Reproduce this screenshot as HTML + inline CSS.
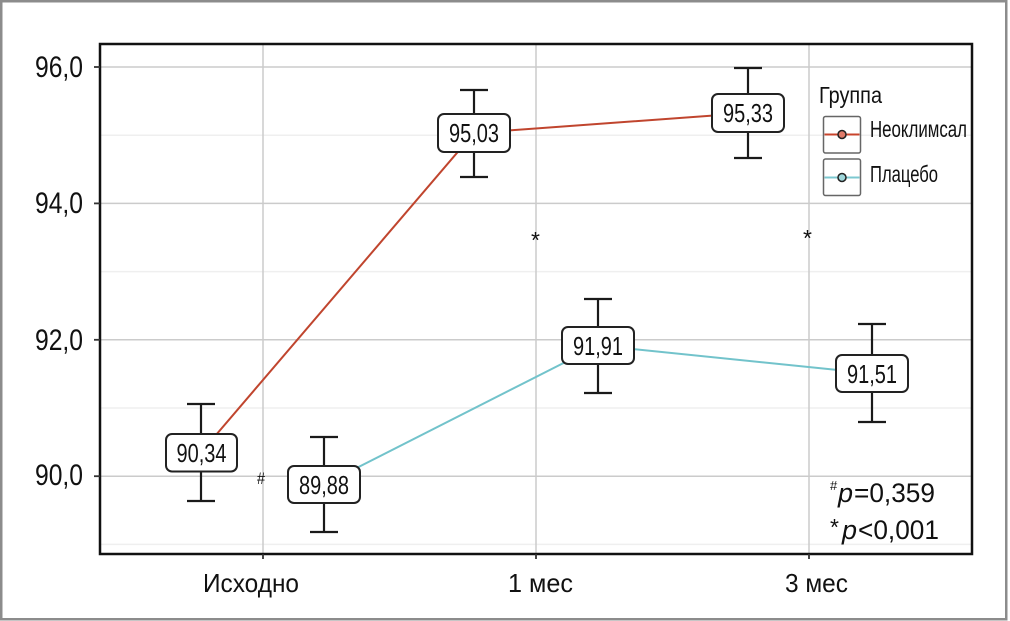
<!DOCTYPE html>
<html><head><meta charset="utf-8"><style>
html,body{margin:0;padding:0;background:#fff;}
svg{display:block;}
text{font-family:"Liberation Sans","DejaVu Sans",sans-serif;fill:#111;}
</style></head><body>
<svg width="1010" height="621" viewBox="0 0 1010 621" xmlns="http://www.w3.org/2000/svg">
<rect x="0" y="0" width="1010" height="621" fill="#fff"/>
<rect x="1.25" y="1.25" width="1005" height="618" fill="none" stroke="#8c8c8c" stroke-width="2.5"/>
<!-- minor grid -->
<g stroke="#efefef" stroke-width="1.5">
<line x1="101" x2="971" y1="135.2" y2="135.2"/>
<line x1="101" x2="971" y1="271.6" y2="271.6"/>
<line x1="101" x2="971" y1="408" y2="408"/>
<line x1="101" x2="971" y1="544.4" y2="544.4"/>
</g>
<!-- major grid -->
<g stroke="#cbcbcb" stroke-width="1.5">
<line x1="101" x2="971" y1="67" y2="67"/>
<line x1="101" x2="971" y1="203.4" y2="203.4"/>
<line x1="101" x2="971" y1="339.8" y2="339.8"/>
<line x1="101" x2="971" y1="476.2" y2="476.2"/>
<line x1="263" x2="263" y1="45" y2="553"/>
<line x1="536" x2="536" y1="45" y2="553"/>
<line x1="809" x2="809" y1="45" y2="553"/>
</g>
<!-- panel border -->
<rect x="100" y="44" width="872" height="510" fill="none" stroke="#111" stroke-width="2.5"/>
<!-- ticks -->
<g stroke="#333" stroke-width="1.8">
<line x1="94" x2="100" y1="67" y2="67"/>
<line x1="94" x2="100" y1="203.4" y2="203.4"/>
<line x1="94" x2="100" y1="339.8" y2="339.8"/>
<line x1="94" x2="100" y1="476.2" y2="476.2"/>
<line x1="263" x2="263" y1="554" y2="559"/>
<line x1="536" x2="536" y1="554" y2="559"/>
<line x1="809" x2="809" y1="554" y2="559"/>
</g>
<!-- y labels -->
<g font-size="30">
<text x="35" y="77" textLength="48" lengthAdjust="spacingAndGlyphs">96,0</text>
<text x="35" y="213" textLength="48" lengthAdjust="spacingAndGlyphs">94,0</text>
<text x="35" y="350" textLength="48" lengthAdjust="spacingAndGlyphs">92,0</text>
<text x="35" y="485" textLength="48" lengthAdjust="spacingAndGlyphs">90,0</text>
</g>
<!-- x labels -->
<g font-size="26">
<text x="203" y="592" textLength="96" lengthAdjust="spacingAndGlyphs">Исходно</text>
<text x="508" y="592" textLength="65" lengthAdjust="spacingAndGlyphs">1 мес</text>
<text x="785" y="592" textLength="63" lengthAdjust="spacingAndGlyphs">3 мес</text>
</g>
<!-- lines -->
<polyline points="201,452.5 474,133 748,113" fill="none" stroke="#c0452e" stroke-width="2"/>
<polyline points="324,484.5 598,345.5 872,373.5" fill="none" stroke="#72c3cb" stroke-width="2"/>
<!-- error bars -->
<g stroke="#1a1a1a" stroke-width="2.2" fill="none">
<path d="M187,404 H215 M201,404 V501 M187,501 H215"/>
<path d="M460,90 H488 M474,90 V177 M460,177 H488"/>
<path d="M734,68 H762 M748,68 V158 M734,158 H762"/>
<path d="M310,437 H338 M324,437 V532 M310,532 H338"/>
<path d="M584,299 H612 M598,299 V393 M584,393 H612"/>
<path d="M858,324 H886 M872,324 V422 M858,422 H886"/>
</g>
<!-- label boxes -->
<g fill="#fff" stroke="#222" stroke-width="2">
<rect x="166" y="434" width="71" height="37.5" rx="6"/>
<rect x="438" y="114" width="72" height="38" rx="6"/>
<rect x="712" y="94" width="72" height="38" rx="6"/>
<rect x="288" y="466" width="72" height="37" rx="6"/>
<rect x="562" y="327" width="72" height="37" rx="6"/>
<rect x="836" y="355" width="72" height="37" rx="6"/>
</g>
<g font-size="26" text-anchor="middle">
<text x="201.5" y="462" textLength="50" lengthAdjust="spacingAndGlyphs">90,34</text>
<text x="474" y="142" textLength="50" lengthAdjust="spacingAndGlyphs">95,03</text>
<text x="748" y="122" textLength="50" lengthAdjust="spacingAndGlyphs">95,33</text>
<text x="324" y="494" textLength="50" lengthAdjust="spacingAndGlyphs">89,88</text>
<text x="598" y="355" textLength="50" lengthAdjust="spacingAndGlyphs">91,91</text>
<text x="872" y="383" textLength="50" lengthAdjust="spacingAndGlyphs">91,51</text>
</g>
<!-- significance marks -->
<text x="257" y="484" font-size="17" textLength="8" lengthAdjust="spacingAndGlyphs">#</text>
<text x="531" y="248" font-size="23">*</text>
<text x="803" y="246" font-size="23">*</text>
<!-- p values -->
<text x="830" y="490" font-size="13">#</text>
<text x="838" y="502" font-size="27" font-style="italic">p</text>
<text x="854" y="502" font-size="27" textLength="81" lengthAdjust="spacingAndGlyphs">=0,359</text>
<text x="830" y="535" font-size="23">*</text>
<text x="842" y="539" font-size="27" font-style="italic">p</text>
<text x="858" y="539" font-size="27" textLength="81" lengthAdjust="spacingAndGlyphs">&lt;0,001</text>
<!-- legend -->
<text x="819" y="103" font-size="23" textLength="63" lengthAdjust="spacingAndGlyphs">Группа</text>
<rect x="823.5" y="116.5" width="37" height="36.5" rx="2" fill="#fff" stroke="#666" stroke-width="1.5"/>
<line x1="824.5" x2="859.5" y1="134.5" y2="134.5" stroke="#c8442c" stroke-width="2"/>
<circle cx="842" cy="134.5" r="4" fill="#e07b6a" stroke="#222" stroke-width="1.5"/>
<rect x="823.5" y="159" width="37" height="36.5" rx="2" fill="#fff" stroke="#666" stroke-width="1.5"/>
<line x1="824.5" x2="859.5" y1="177.5" y2="177.5" stroke="#7cc8d0" stroke-width="2"/>
<circle cx="842" cy="177.5" r="4" fill="#9ed6da" stroke="#222" stroke-width="1.5"/>
<text x="870" y="137" font-size="23" textLength="97" lengthAdjust="spacingAndGlyphs">Неоклимсал</text>
<text x="870" y="182" font-size="23" textLength="68" lengthAdjust="spacingAndGlyphs">Плацебо</text>
</svg>
</body></html>
